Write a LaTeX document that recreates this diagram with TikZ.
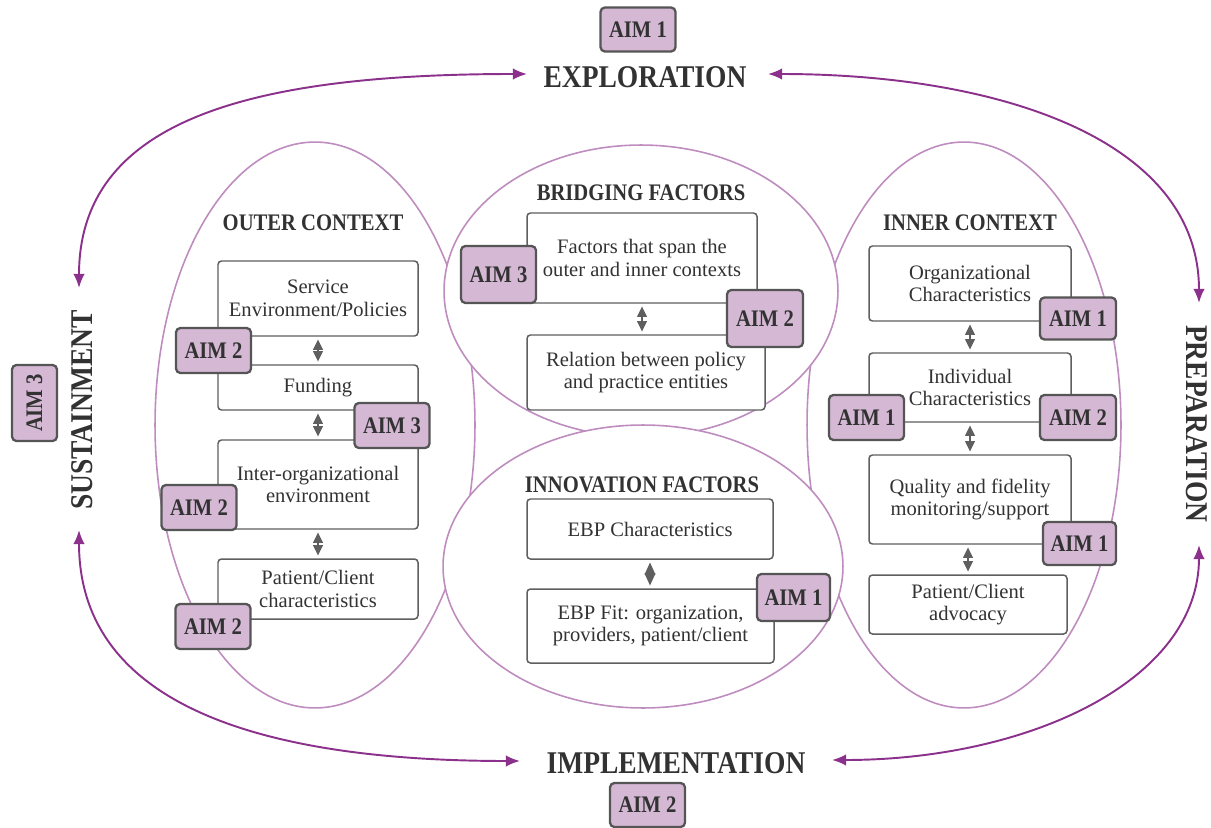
\documentclass[tikz,border=0pt]{standalone}
\usepackage{fontspec}
\setmainfont{Liberation Serif}
\newfontfamily\condfont[FakeStretch=0.87]{Liberation Serif}
\usetikzlibrary{arrows.meta}
\definecolor{arrowpurple}{RGB}{139,49,139}
\definecolor{ellcol}{RGB}{190,140,190}
\definecolor{aimfill}{RGB}{212,184,212}
\definecolor{aimborder}{RGB}{85,85,85}
\definecolor{boxcol}{RGB}{95,95,95}
\definecolor{txtcol}{RGB}{50,50,50}
\definecolor{dblcol}{RGB}{95,95,95}
\begin{document}
\begin{tikzpicture}[x=0.02cm,y=-0.02cm,
  ell/.style={draw=ellcol, line width=0.9pt, fill=white},
  sz/.style 2 args={minimum width=#1*0.02cm, minimum height=#2*0.02cm},
  boxnode/.style={draw=boxcol, line width=0.85pt, rounded corners=2pt, fill=white, align=center,
     font=\fontsize{11.7}{12.8}\selectfont, text=txtcol, inner sep=0pt},
  aimbox/.style={draw=aimborder, fill=aimfill, line width=1.3pt, rounded corners=2.5pt,
     font=\condfont\bfseries\fontsize{13.5}{15}\selectfont, text=txtcol, inner sep=0pt, sz={75}{45}},
  titlelbl/.style={font=\condfont\bfseries\fontsize{13.5}{15}\selectfont, text=txtcol, inner sep=0pt},
  phaselbl/.style={font=\condfont\bfseries\fontsize{18}{20}\selectfont, text=txtcol, inner sep=0pt},
  bigarrow/.style={draw=arrowpurple, line width=1.1pt, {Latex[length=8pt,width=6.5pt]}-{Latex[length=8pt,width=6.5pt]}},
  dblarrow/.style={draw=dblcol, line width=1pt, shorten <=1.5pt, shorten >=1.5pt,
     {Triangle[length=6pt,width=5.5pt]}-{Triangle[length=6pt,width=5.5pt]}},
  diamarrow/.style={draw=dblcol, line width=1pt, shorten <=1.5pt, shorten >=1.5pt,
     {Triangle[length=7pt,width=6pt]}-{Triangle[length=7pt,width=6pt]}}
]
\useasboundingbox (0,0) rectangle (1211,828);

% ellipses
\draw[ell] (315,425) ellipse [x radius=3.2cm, y radius=5.66cm];
\draw[ell] (964,425) ellipse [x radius=3.14cm, y radius=5.66cm];
\draw[ell] (641,291) ellipse [x radius=3.94cm, y radius=2.92cm];
\draw[ell] (643,566.5) ellipse [x radius=4.0cm, y radius=2.83cm];

% phase labels
\node[aimbox, sz={75}{44}] (aimtop) at (638,29.5) {AIM 1};
\node[phaselbl] (expl) at (645,77) {EXPLORATION};
\node[phaselbl] (impl) at (676,763) {IMPLEMENTATION};
\node[aimbox, sz={75}{44}] (aimbot) at (647.5,805) {AIM 2};
\node[phaselbl, rotate=90] (sust) at (82,410) {SUSTAINMENT};
\node[aimbox, rotate=90, sz={76}{45}] (aimleft) at (34.5,403) {AIM 3};
\node[phaselbl, rotate=-90] (prep) at (1197,424) {PREPARATION};

% big arrows
\coordinate (explW) at (527,74);
\coordinate (explE) at (768,74);
\coordinate (implW) at (520,761);
\coordinate (implE) at (832,760);
\coordinate (sustT) at (79,288);
\coordinate (sustB) at (79,530);
\coordinate (prepT) at (1199,303);
\coordinate (prepB) at (1199,545);
\draw[bigarrow] (explW) .. controls (250,74) and (79,120) .. (sustT);
\draw[bigarrow] (explE) .. controls (1000,74) and (1199,140) .. (prepT);
\draw[bigarrow] (sustB) .. controls (79,700) and (250,761) .. (implW);
\draw[bigarrow] (implE) .. controls (1030,760) and (1199,680) .. (prepB);

% titles
\node[titlelbl] (tout) at (313,223) {OUTER CONTEXT};
\node[titlelbl] (tbri) at (641,193) {BRIDGING FACTORS};
\node[titlelbl] (tinn) at (642,485) {INNOVATION FACTORS};
\node[titlelbl] (tinr) at (970,223) {INNER CONTEXT};

% outer context boxes
\node[boxnode, sz={200}{75}] (o1) at (318,298.5) {Service\\Environment/Policies};
\node[boxnode, sz={200}{45}] (o2) at (318,387.5) {Funding};
\node[boxnode, sz={200}{89}] (o3) at (318,484.5) {Inter-organizational\\environment};
\node[boxnode, sz={200}{60}] (o4) at (318,589) {Patient/Client\\characteristics};
\draw[dblarrow] (o1.south) -- (o2.north);
\draw[dblarrow] (o2.south) -- (o3.north);
\draw[dblarrow] (o3.south) -- (o4.north);
\node[aimbox] (ao1) at (213.5,350.5) {AIM 2};
\node[aimbox] (ao2) at (392,425.5) {AIM 3};
\node[aimbox] (ao3) at (199,507.5) {AIM 2};
\node[aimbox] (ao4) at (213,626.5) {AIM 2};

% bridging factors
\node[boxnode, sz={230}{90}] (b1) at (642,258) {Factors that span the\\outer and inner contexts};
\node[boxnode, sz={238}{75}] (b2) at (646,372.5) {Relation between policy\\and practice entities};
\draw[dblarrow] (b1.south) -- (b1.south |- b2.north);
\node[aimbox, sz={75}{57}] (ab1) at (498.5,274.5) {AIM 3};
\node[aimbox, sz={76}{57}] (ab2) at (765,318.5) {AIM 2};

% innovation factors
\node[boxnode, sz={246}{60}] (i1) at (650,529) {EBP Characteristics};
\node[boxnode, sz={247}{74}] (i2) at (650.5,626) {EBP Fit: organization,\\providers, patient/client};
\draw[diamarrow] (i1.south) -- (i1.south |- i2.north);
\node[aimbox, sz={73}{47}] (ai2) at (793.5,597.5) {AIM 1};

% inner context
\node[boxnode, sz={202}{75}] (n1) at (970,283.5) {Organizational\\Characteristics};
\node[boxnode, sz={202}{69}] (n2) at (970,387.5) {Individual\\Characteristics};
\node[boxnode, sz={202}{89}] (n3) at (970,499.5) {Quality and fidelity\\monitoring/support};
\node[boxnode, sz={198}{59}] (n4) at (968,604.5) {Patient/Client\\advocacy};
\draw[dblarrow] (n1.south) -- (n2.north);
\draw[dblarrow] (n2.south) -- (n3.north);
\draw[dblarrow] (n4.north |- n3.south) -- (n4.north);
\node[aimbox, sz={76}{42}] (an1) at (1078,318.5) {AIM 1};
\node[aimbox] (an2l) at (866.5,417.5) {AIM 1};
\node[aimbox, sz={76}{45}] (an2r) at (1078,417.5) {AIM 2};
\node[aimbox, sz={73}{43}] (an3) at (1079.5,543.5) {AIM 1};
\end{tikzpicture}
\end{document}
